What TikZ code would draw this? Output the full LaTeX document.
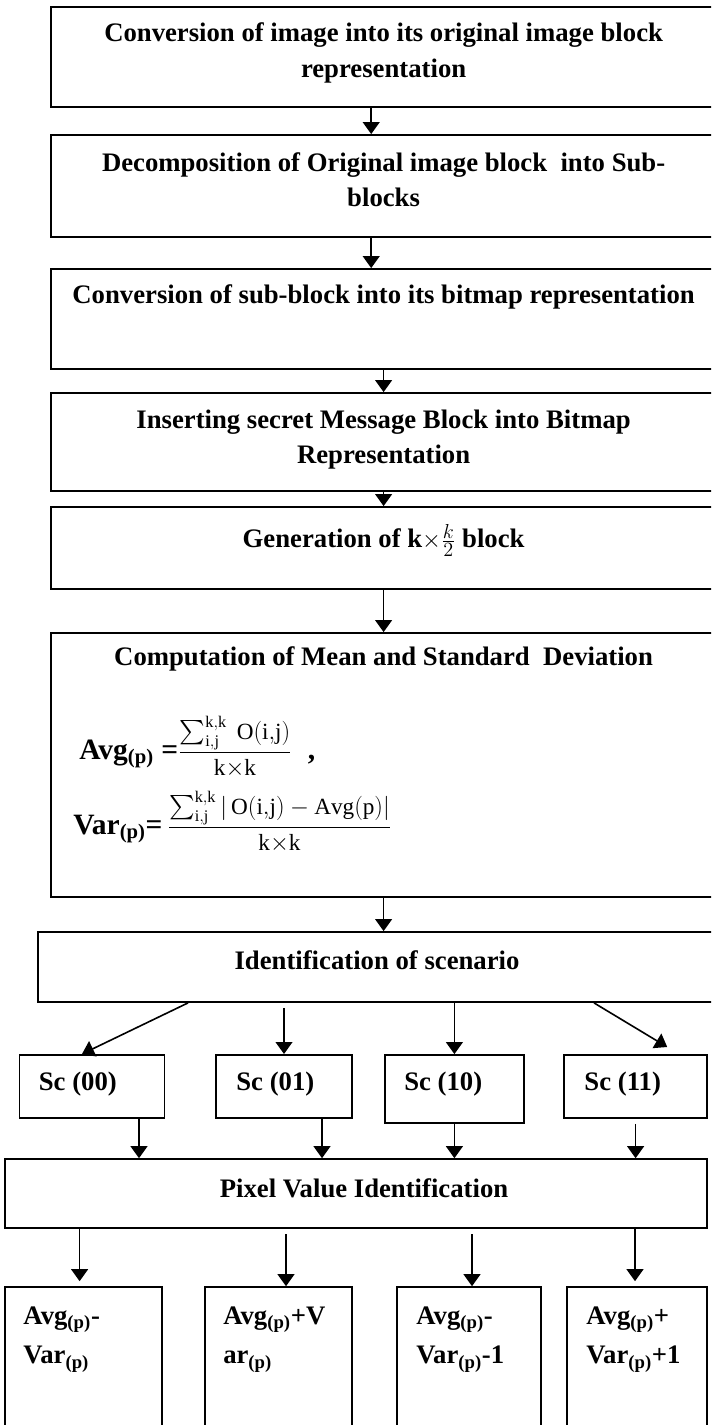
\documentclass[tikz,border=0pt]{standalone}
\usepackage{fontspec}
\setmainfont{Liberation Serif}
\usepackage{amsmath}
\usetikzlibrary{arrows.meta,positioning}
\tikzset{
   box/.style      = {draw, rectangle, line width=0.45mm, inner sep=0pt},
   boxtext/.style  = {font=\fontsize{19}{25}\selectfont\bfseries, align=center, inner sep=0pt},
   celltext/.style = {font=\fontsize{19}{28}\selectfont\bfseries, align=left, inner sep=0pt},
   eqtext/.style   = {font=\fontsize{21}{25}\selectfont\bfseries, inner sep=0pt},
   arrow/.style    = {-{Triangle[length=3mm,width=4.2mm]}, line width=0.4mm},
}
\newcommand{\fracfont}{\fontsize{16.5}{19}\selectfont}

\begin{document}
\begin{tikzpicture}

      \path[use as bounding box] (0mm,0mm) rectangle (177.75mm,-356.25mm);
      \clip (0mm,0mm) rectangle (177.75mm,-356.25mm);

      % main column
      \node[box, minimum width=166.25mm, minimum height=25mm] (conv) at (95.9mm,-14.25mm){};
      \node[boxtext] (convtext) at ([yshift=1mm]conv.center)
         {Conversion of image into its original image block\\representation};

      \node[box, minimum width=166.25mm, minimum height=25.5mm] (decomp) at (95.9mm,-46.5mm){};
      \node[boxtext] (decomptext) at ([yshift=1.5mm]decomp.center)
         {Decomposition of Original image block~ into Sub-\\blocks};

      \node[box, minimum width=166.25mm, minimum height=25mm] (bitmap) at (95.9mm,-79.75mm){};
      \node[boxtext] (bitmaptext) at ([yshift=5.5mm]bitmap.center)
         {Conversion of sub-block into its bitmap representation};

      \node[box, minimum width=166.25mm, minimum height=24.5mm] (insert) at (95.9mm,-110.5mm){};
      \node[boxtext] (inserttext) at ([yshift=0.6mm]insert.center)
         {Inserting secret Message Block into Bitmap\\Representation};

      \node[box, minimum width=166.25mm, minimum height=20.5mm] (gener) at (95.9mm,-137mm){};
      \node[boxtext] (genertext) at ([yshift=2mm]gener.center)
         {Generation of k$\times\frac{k}{2}$ block};

      \node[box, minimum width=166.25mm, minimum height=66mm] (stats) at (95.9mm,-191.25mm){};
      \node[boxtext] (statstext) at ([yshift=-6.75mm]stats.north)
         {Computation of Mean and Standard~ Deviation};
      \node[eqtext, anchor=base west] (avgeq) at (19.75mm,-189.75mm)
         {Avg\textsubscript{(p)} ={\fracfont$\dfrac{\sum_{\mathrm{i,j}}^{\mathrm{k,k}}\ \mathrm{O(i{,}j)}}{\mathrm{k{\times}k}}$}\hspace{4mm},};
      \node[eqtext, anchor=base west] (vareq) at (18.25mm,-208.5mm)
         {Var\textsubscript{(p)}=\,{\fracfont$\dfrac{\sum_{\mathrm{i,j}}^{\mathrm{k,k}}|\,\mathrm{O(i{,}j)}-\mathrm{Avg(p)}|}{\mathrm{k{\times}k}}$}};

      % scenarios
      \node[box, minimum width=169.5mm, minimum height=17.5mm] (scen) at (94.25mm,-241.75mm){};
      \node[boxtext] (scentext) at ([yshift=1.75mm]scen.center) {Identification of scenario};

      \node[box, minimum width=36.25mm, minimum height=15.75mm] (sc00) at (23mm,-271.6mm){};
      \node[box, minimum width=34mm,    minimum height=15.75mm] (sc01) at (71mm,-271.6mm){};
      \node[box, minimum width=34.75mm, minimum height=17mm]    (sc10) at (113.6mm,-272.25mm){};
      \node[box, minimum width=35.75mm, minimum height=15.75mm] (sc11) at (158.9mm,-271.6mm){};
      \node[boxtext, anchor=west] (sc00text) at ([xshift=5mm,yshift=0.5mm]sc00.west) {Sc (00)};
      \node[boxtext, anchor=west] (sc01text) at ([xshift=5.25mm,yshift=0.5mm]sc01.west) {Sc (01)};
      \node[boxtext, anchor=west] (sc10text) at ([xshift=5mm,yshift=1.25mm]sc10.west) {Sc (10)};
      \node[boxtext, anchor=west] (sc11text) at ([xshift=5.25mm,yshift=0.5mm]sc11.west) {Sc (11)};

      % pixel values
      \node[box, minimum width=175.5mm, minimum height=17.25mm] (pixel) at (89mm,-298.4mm){};
      \node[boxtext] (pixeltext) at ([xshift=2mm,yshift=1.4mm]pixel.center) {Pixel Value Identification};

      \node[box, minimum width=39.25mm, minimum height=38.25mm] (res1) at (20.9mm,-340.9mm){};
      \node[box, minimum width=36.75mm, minimum height=38.25mm] (res2) at (69.6mm,-340.9mm){};
      \node[box, minimum width=36mm,    minimum height=38.25mm] (res3) at (117.25mm,-340.9mm){};
      \node[box, minimum width=35mm,    minimum height=38.25mm] (res4) at (159.25mm,-340.9mm){};
      \node[celltext, anchor=north west] (res1text) at ([xshift=4.75mm,yshift=-5mm]res1.north west)
         {Avg\textsubscript{(p)}-\\Var\textsubscript{(p)}};
      \node[celltext, anchor=north west] (res2text) at ([xshift=4.75mm,yshift=-5mm]res2.north west)
         {Avg\textsubscript{(p)}+V\\ar\textsubscript{(p)}};
      \node[celltext, anchor=north west] (res3text) at ([xshift=5mm,yshift=-5mm]res3.north west)
         {Avg\textsubscript{(p)}-\\Var\textsubscript{(p)}-1};
      \node[celltext, anchor=north west] (res4text) at ([xshift=5mm,yshift=-5mm]res4.north west)
         {Avg\textsubscript{(p)}+\\Var\textsubscript{(p)}+1};

      \draw[arrow] ([xshift=-3.1mm]conv.south)   -- ([xshift=-3.1mm]decomp.north);
      \draw[arrow] ([xshift=-3.1mm]decomp.south) -- ([xshift=-3.1mm]bitmap.north);
      \draw[arrow] (bitmap.south)                -- (insert.north);
      \draw[arrow] (insert.south)                -- (gener.north);
      \draw[arrow] (gener.south)                 -- (stats.north);
      \draw[arrow] (stats.south)                 -- (stats.south |- scen.north);

      \draw[arrow] ([xshift=-47.25mm]scen.south)            -- ([xshift=-2.5mm]sc00.north);
      \draw[arrow] ([yshift=-1.25mm]sc01.north |- scen.south) -- (sc01.north);
      \draw[arrow] (sc10.north |- scen.south)                 -- (sc10.north);
      \draw[arrow] ([xshift=54.25mm]scen.south)             -- ([xshift=7.9mm,yshift=1.75mm]sc11.north);

      \draw[arrow] ([xshift=11.75mm]sc00.south) -- ([xshift=11.75mm]sc00.south |- pixel.north);
      \draw[arrow] ([xshift=9.5mm]sc01.south)   -- ([xshift=9.5mm]sc01.south |- pixel.north);
      \draw[arrow] (sc10.south)                 -- (sc10.south |- pixel.north);
      \draw[arrow] ([yshift=-1.25mm]sc11.south) -- (sc11.south |- pixel.north);

      \draw[arrow] ([xshift=-1mm]res1.north |- pixel.south)               -- ([xshift=-1mm,yshift=1.25mm]res1.north);
      \draw[arrow] ([xshift=1.9mm,yshift=-1.25mm]res2.north |- pixel.south) -- ([xshift=1.9mm]res2.north);
      \draw[arrow] ([xshift=0.75mm,yshift=-1.25mm]res3.north |- pixel.south) -- ([xshift=0.75mm]res3.north);
      \draw[arrow] ([xshift=-0.5mm]res4.north |- pixel.south)             -- ([xshift=-0.5mm,yshift=1.25mm]res4.north);

\end{tikzpicture}
\end{document}
